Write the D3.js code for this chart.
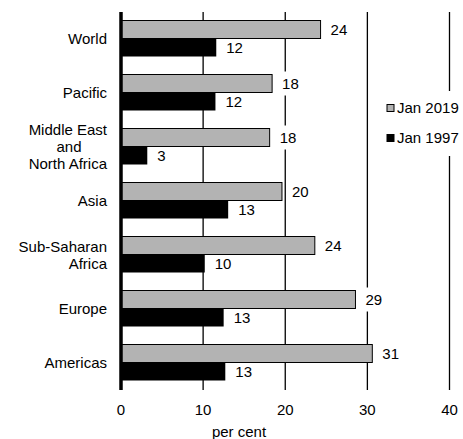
<!DOCTYPE html>
<html><head><meta charset="utf-8">
<script src="https://cdn.jsdelivr.net/npm/d3@7"></script>
<style>body{margin:0;background:#fff}svg{display:block;font-family:"Liberation Sans",Arial,sans-serif}</style>
</head><body><svg id="c" width="463" height="439"></svg>
<script>
const categories = [["World"],["Pacific"],["Middle East","and","North Africa"],["Asia"],["Sub-Saharan","Africa"],["Europe"],["Americas"]];
const jan2019 = [24.3, 18.4, 18.1, 19.6, 23.6, 28.55, 30.6];
const jan1997 = [11.6, 11.5, 3.2, 13.05, 10.2, 12.5, 12.7];
const xTicks = [0, 10, 20, 30, 40];
const seriesNames = ["Jan 2019", "Jan 1997"];
const colors = ["#b3b3b3", "#000000"];

const svg = d3.select("#c");
const x = d3.scaleLinear().domain([0, 40]).range([121, 449.5]);
const y = d3.scaleBand().domain(d3.range(categories.length)).range([12, 390]);
const fs = 15;

// gridlines
svg.append("g").selectAll("line").data(xTicks.slice(1)).join("line")
  .attr("x1", d => x(d)).attr("x2", d => x(d)).attr("y1", 12).attr("y2", 390)
  .attr("stroke", "#000").attr("stroke-width", 1.3);

const boxG = svg.append("g");
const barG = svg.append("g");
const labG = svg.append("g");
const barH = 18, off = 8.5;
barG.selectAll("rect.a").data(jan2019).join("rect").attr("class", "a")
  .attr("x", x(0)).attr("y", (d, i) => y(i) + off).attr("width", d => x(d) - x(0)).attr("height", barH)
  .attr("fill", colors[0]).attr("stroke", "#000").attr("stroke-width", 1);
barG.selectAll("rect.b").data(jan1997).join("rect").attr("class", "b")
  .attr("x", x(0)).attr("y", (d, i) => y(i) + off + barH).attr("width", d => x(d) - x(0)).attr("height", barH)
  .attr("fill", colors[1]);

function vlabel(vals, k) {
  vals.forEach((v, i) => {
    const cx = x(v) + 10, cy = y(i) + off + barH * k + barH / 2;
    const t = labG.append("text").attr("x", cx).attr("y", cy).attr("dy", "0.35em")
      .attr("font-size", fs).attr("fill", "#000").text(Math.round(v));
    const bb = t.node().getBBox();
    boxG.append("rect").attr("x", bb.x - 4).attr("y", cy - 12).attr("width", bb.width + 8).attr("height", 24).attr("fill", "#fff");
  });
}
vlabel(jan2019, 0);
vlabel(jan1997, 1);

svg.append("line").attr("x1", x(0)).attr("x2", x(0)).attr("y1", 12).attr("y2", 390)
  .attr("stroke", "#000").attr("stroke-width", 3.5);

categories.forEach((lines, i) => {
  const cy = y(i) + y.bandwidth() / 2;
  const lh = 17;
  const t = svg.append("text").attr("font-size", fs).attr("fill", "#000");
  lines.forEach((l, j) => {
    const mid = lines.length > 1 && l === "and";
    t.append("tspan").attr("x", mid ? 69 : 107).attr("y", cy + (j - (lines.length - 1) / 2) * lh).attr("dy", "0.35em")
      .attr("text-anchor", mid ? "middle" : "end").text(l);
  });
});

svg.append("g").selectAll("text").data(xTicks).join("text")
  .attr("x", d => x(d)).attr("y", 410).attr("dy", "0.35em").attr("text-anchor", "middle")
  .attr("font-size", fs).text(d => d);
svg.append("text").attr("x", 239).attr("y", 432).attr("dy", "0.35em").attr("text-anchor", "middle")
  .attr("font-size", fs).text("per cent");

svg.append("rect").attr("x", 384).attr("y", 91).attr("width", 79).attr("height", 65).attr("fill", "#fff");
seriesNames.forEach((s, i) => {
  const cy = 108 + i * 30;
  svg.append("rect").attr("x", 387).attr("y", cy - 3.5).attr("width", 7).attr("height", 7)
    .attr("fill", colors[i]).attr("stroke", "#000").attr("stroke-width", 1);
  svg.append("text").attr("x", 397).attr("y", cy).attr("dy", "0.35em").attr("font-size", fs).text(s);
});
</script></body></html>
